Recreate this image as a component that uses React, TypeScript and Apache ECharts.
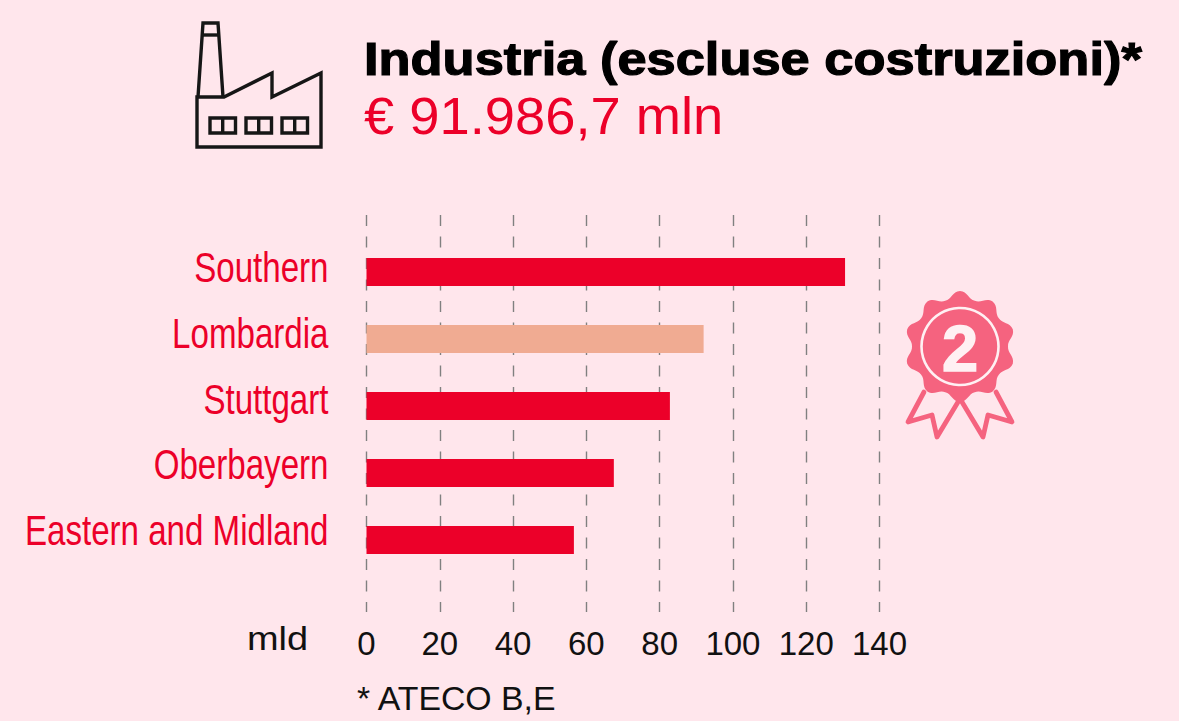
import React, { useEffect, useRef } from "react";
import * as echarts from "echarts";

const categories = ["Southern", "Lombardia", "Stuttgart", "Oberbayern", "Eastern and Midland"];
const values = [130.6, 92, 82.8, 67.5, 56.6];
const highlighted = "Lombardia";
const tickStep = 20;
const axisMax = 140;
const titleText = "Industria (escluse costruzioni)*";
const subtitleText = "€ 91.986,7 mln";
const unitText = "mld";
const noteText = "* ATECO B,E";
const rankText = "2";

const BG = "#FFE6EC";
const RED = "#EC0029";
const PEACH = "#F0AB92";
const BADGE = "#F5637F";

const rosette = (() => {
  const cx = 960, cy = 346.5, n = 10, rIn = 48, rOut = 55.5;
  const step = Math.PI / n;
  const d0 = step * 0.45;
  const p = (r: number, a: number) => `${(cx + r * Math.cos(a)).toFixed(1)} ${(cy + r * Math.sin(a)).toFixed(1)}`;
  let d = `M${p(rIn, -Math.PI / 2 - step)} `;
  for (let i = 0; i < n; i++) {
    const peak = -Math.PI / 2 + i * 2 * step;
    d += `C${p(rIn, peak - step + d0)} ${p(rOut, peak - d0)} ${p(rOut, peak)} `;
    d += `C${p(rOut, peak + d0)} ${p(rIn, peak + step - d0)} ${p(rIn, peak + step)} `;
  }
  return d + "Z";
})();

echarts.graphic.registerShape("rosette", echarts.graphic.extendPath(rosette as any, {}) as any);

export default function App() {
  const ref = useRef<HTMLDivElement>(null);
  useEffect(() => {
    const chart = echarts.init(ref.current!, null, { renderer: "svg" });
    const ink = { stroke: "#161616", lineWidth: 3.4, fill: "none" };
    const win = (x: number) => [
      { type: "rect", shape: { x, y: 118, width: 25.5, height: 15 }, style: ink },
      { type: "line", shape: { x1: x + 12.7, y1: 118, x2: x + 12.7, y2: 133 }, style: ink },
    ];
    const ribbon = { stroke: BADGE, lineWidth: 4.8, fill: "none", lineJoin: "round", lineCap: "round" };
    const font = "'Liberation Sans', Arial, sans-serif";
    const gridLeft = 366.5;
    const gridWidth = 513;
    const xBase = {
      type: "value",
      min: 0,
      max: axisMax,
      interval: tickStep,
      axisLine: { show: false },
      axisTick: { show: false },
      splitLine: { show: false },
      axisLabel: { show: false },
    };
    chart.setOption({
      animation: false,
      backgroundColor: BG,
      grid: [
        { left: gridLeft, width: gridWidth, top: 238.5, height: 335 },
        { left: gridLeft, width: gridWidth, top: 215, height: 397 },
      ],
      xAxis: [
        { ...xBase, gridIndex: 0 },
        {
          ...xBase,
          gridIndex: 1,
          splitLine: { show: true, lineStyle: { color: "#808080", width: 1.4, type: [11, 10.5] } },
          axisLabel: { show: true, color: "#111", fontSize: 33, fontFamily: font, margin: 15, hideOverlap: false },
        },
      ],
      yAxis: [
        { type: "category", gridIndex: 0, inverse: true, data: categories, axisLine: { show: false }, axisTick: { show: false }, axisLabel: { show: false } },
        { type: "value", gridIndex: 1, min: 0, max: 1, axisLine: { show: false }, axisTick: { show: false }, axisLabel: { show: false }, splitLine: { show: false } },
      ],
      series: [
        {
          type: "bar",
          xAxisIndex: 0,
          yAxisIndex: 0,
          z: 5,
          barWidth: 28,
          data: categories.map((c, i) => ({
            value: values[i],
            itemStyle: { color: c === highlighted ? PEACH : RED },
          })),
        },
      ],
      graphic: [
        ...categories.map((c, i) => ({
          type: "text",
          x: 328.5,
          y: 267 + 65.75 * i,
          scaleX: 0.77,
          style: { text: c, fontFamily: font, fontSize: 43, fill: RED, align: "right", verticalAlign: "middle" },
        })),
        { type: "text", x: 364, y: 36, scaleX: 1.14, style: { text: titleText, fontFamily: font, fontWeight: "bold", fontSize: 46, fill: "#000", stroke: "#000", lineWidth: 1.2 } },
        { type: "text", x: 364, y: 91, scaleX: 1.065, style: { text: subtitleText, fontFamily: font, fontSize: 51, fill: RED } },
        { type: "text", x: 247, y: 622, scaleX: 1.15, style: { text: unitText, fontFamily: font, fontSize: 33, fill: "#111" } },
        { type: "text", x: 357, y: 682, scaleX: 1.025, style: { text: noteText, fontFamily: font, fontSize: 33, fill: "#111" } },
        { type: "polyline", shape: { points: [[198, 97], [203, 23], [218, 23], [223, 97]] }, style: ink },
        { type: "line", shape: { x1: 202, y1: 35, x2: 219, y2: 35 }, style: ink },
        { type: "polygon", shape: { points: [[197, 97], [224, 97], [272, 73], [272, 97], [321, 73], [321, 147], [197, 147]] }, style: ink },
        ...win(210),
        ...win(246),
        ...win(282),
        { type: "polyline", shape: { points: [[924, 392], [908, 422], [932, 415], [937, 437], [958, 402]] }, style: ribbon },
        { type: "polyline", shape: { points: [[996, 392], [1012, 422], [988, 415], [983, 437], [962, 402]] }, style: ribbon },
        { type: "rosette", style: { fill: BADGE } },
        { type: "circle", shape: { cx: 960, cy: 346.5, r: 38.5 }, style: { fill: "none", stroke: "#FFF0F3", lineWidth: 2.6 } },
        { type: "text", x: 960, y: 348, style: { text: rankText, fontFamily: font, fontWeight: "bold", fontSize: 65, fill: "#FFF0F3", stroke: "#FFF0F3", lineWidth: 1.5, align: "center", verticalAlign: "middle" } },
      ],
    });
    return () => chart.dispose();
  }, []);
  return <div ref={ref} style={{ position: "fixed", left: 0, top: 0, width: 1179, height: 721 }} />;
}
